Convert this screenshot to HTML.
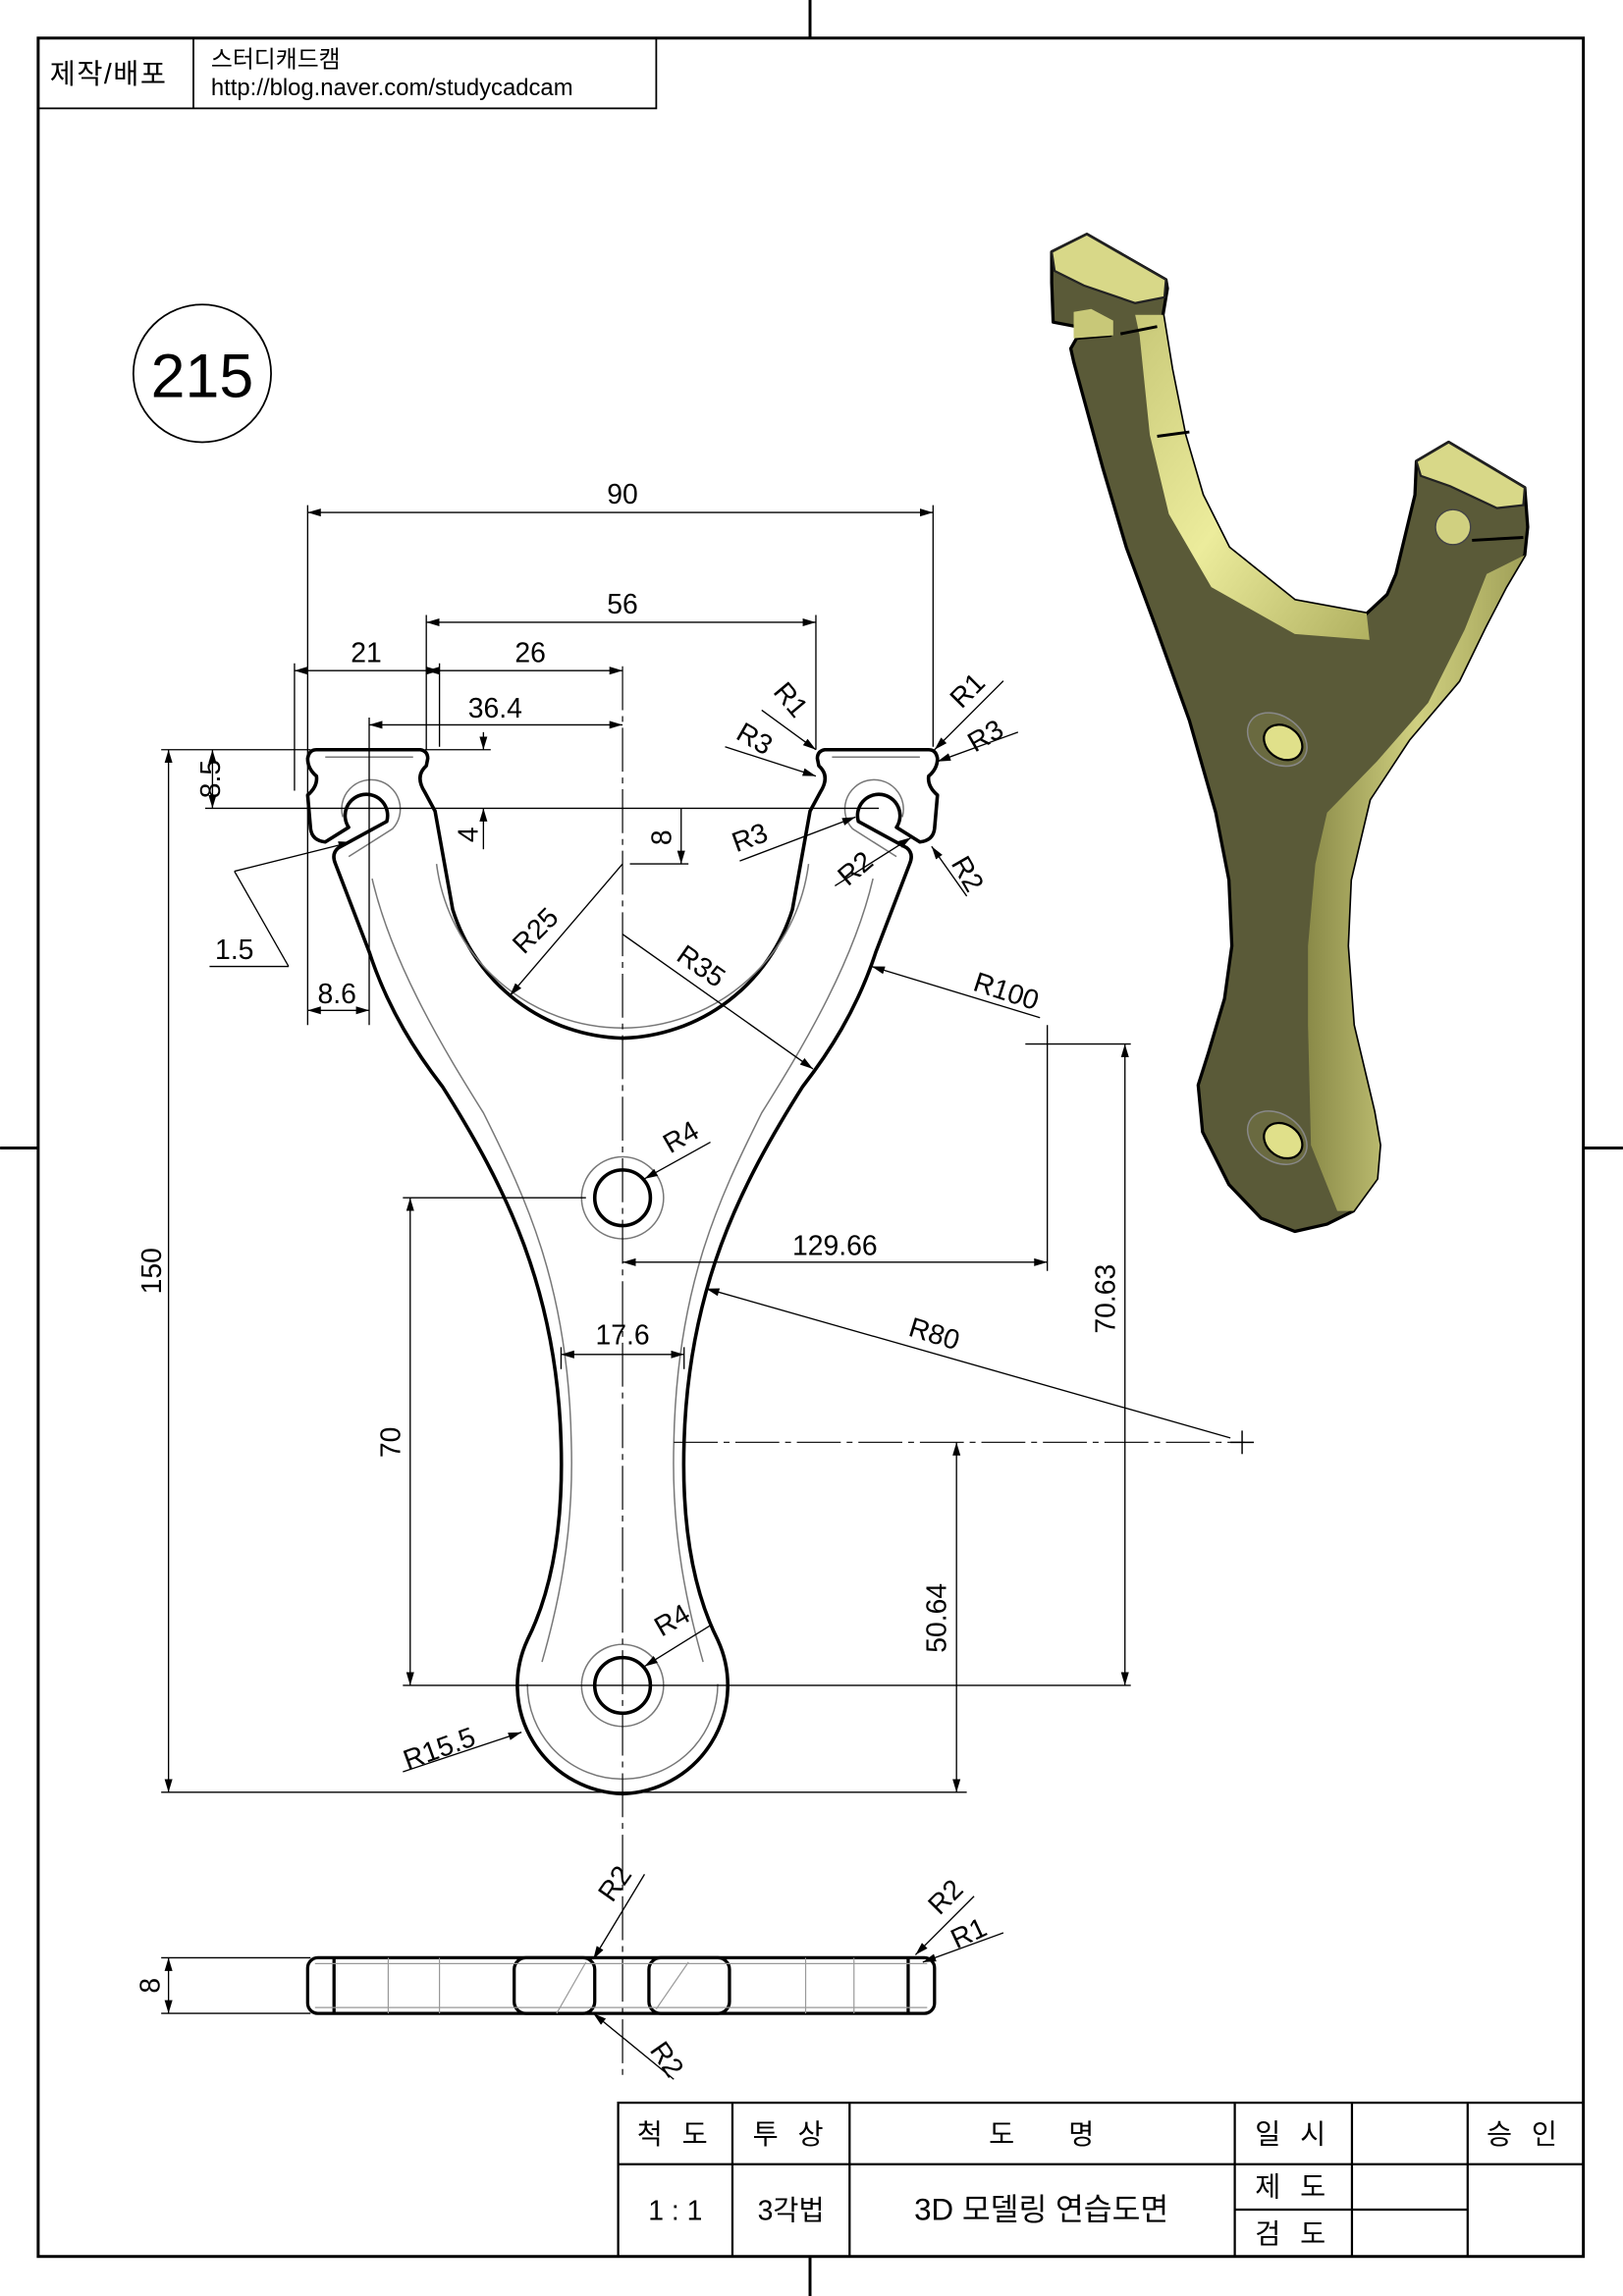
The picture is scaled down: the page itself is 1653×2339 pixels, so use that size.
<!DOCTYPE html>
<html><head><meta charset="utf-8"><style>
html,body{margin:0;padding:0;background:#fff}
svg{display:block}
text{font-family:"Liberation Sans","Noto Sans CJK KR",sans-serif;fill:#000}
</style></head><body>
<svg width="1653" height="2339" viewBox="0 0 1108 1568" xmlns="http://www.w3.org/2000/svg">
<defs>
<marker id="a" viewBox="0 0 10 10" refX="10" refY="5" markerWidth="9" markerHeight="9" orient="auto-start-reverse" markerUnits="userSpaceOnUse"><path d="M0,2 L10,5 L0,8 z" fill="#000"/></marker>
<linearGradient id="hb" x1="0" y1="0" x2="1" y2="1"><stop offset="0" stop-color="#c8c878"/><stop offset="0.5" stop-color="#ecec9c"/><stop offset="1" stop-color="#b0b060"/></linearGradient>
<linearGradient id="rb" x1="0" y1="0" x2="1" y2="0"><stop offset="0" stop-color="#8a8a48"/><stop offset="0.5" stop-color="#d0d080"/><stop offset="1" stop-color="#a0a058"/></linearGradient>
</defs>
<rect width="1108" height="1568" fill="#fff"/>
<!-- border -->
<rect x="26" y="26" width="1055" height="1515" fill="none" stroke="#000" stroke-width="2"/>
<g stroke="#000" stroke-width="2"><line x1="553" y1="0" x2="553" y2="26"/><line x1="553" y1="1541" x2="553" y2="1568"/><line x1="0" y1="784" x2="26" y2="784"/><line x1="1081" y1="784" x2="1108" y2="784"/></g>
<!-- header -->
<g stroke="#000" stroke-width="1.2" fill="none"><rect x="26" y="26" width="422" height="48"/><line x1="132" y1="26" x2="132" y2="74"/></g>
<text x="34" y="57" font-size="19" letter-spacing="1">제작/배포</text>
<text x="144" y="46" font-size="16">스터디캐드캠</text>
<text x="144" y="65" font-size="16">http://blog.naver.com/studycadcam</text>
<circle cx="138" cy="255" r="47" fill="none" stroke="#000" stroke-width="1.2"/>
<text x="138" y="271" font-size="42" text-anchor="middle">215</text>

<!-- 3D view -->
<path d="M718,193 L718,172 L742,160 L796,191 L797,197 L794,215 L800,252 L809,297 L821,338 L839,374 L884,410 L933,419 L947,406 L953,392 L966,338 L967,315 L989,302 L1041,333 L1043,360 L1041,379 L1028,401 L1014,428 L996,465 L962,505 L935,546 L922,601 L920,646 L924,700 L938,759 L942,782 L940,805 L924,827 L906,836 L884,841 L861,832 L839,809 L821,773 L818,741 L825,719 L836,682 L841,646 L839,601 L830,555 L812,492 L789,428 L769,374 L753,320 L733,247 L731,238 L735,231 L758,229 L740,224 L719,220 Z" fill="#5a5a38" stroke="#000" stroke-width="2.2" stroke-linejoin="round"/>
<path d="M794,215 L800,252 L809,297 L821,338 L839,374 L884,410 L933,419 L935,437 L884,433 L827,401 L798,351 L785,297 L778,229 L775,215 Z" fill="url(#hb)"/>
<path d="M1041,379 L1028,401 L1014,428 L996,465 L962,505 L935,546 L922,601 L920,646 L924,700 L938,759 L942,782 L940,805 L924,827 L913,827 L895,782 L893,700 L893,646 L898,590 L906,555 L940,520 L975,480 L1000,430 L1015,392 Z" fill="url(#rb)"/>
<path d="M718,172 L742,160 L796,191 L795,203 L775,207 L740,195 L720,185 Z" fill="#d8d888" stroke="#222" stroke-width="1.5"/>
<path d="M967,315 L989,302 L1041,333 L1040,345 L1022,347 L990,332 L970,325 Z" fill="#d8d888" stroke="#222" stroke-width="1.5"/>
<path d="M733,231 L760,229 L760,219 L745,211 L733,213 Z" fill="#c8c878"/>
<ellipse cx="992" cy="360" rx="12" ry="12" fill="#d0d080" stroke="#444" stroke-width="1"/>
<ellipse cx="872" cy="505" rx="22" ry="16" transform="rotate(35 872 505)" fill="#6a6a40" stroke="#888" stroke-width="1"/>
<ellipse cx="876" cy="507" rx="14" ry="11" transform="rotate(35 876 507)" fill="#e0e08a" stroke="#000" stroke-width="1.5"/>
<ellipse cx="872" cy="777" rx="22" ry="16" transform="rotate(35 872 777)" fill="#6a6a40" stroke="#888" stroke-width="1"/>
<ellipse cx="876" cy="779" rx="14" ry="11" transform="rotate(35 876 779)" fill="#e0e08a" stroke="#000" stroke-width="1.5"/>
<g stroke="#000" stroke-width="2"><line x1="765" y1="228" x2="790" y2="223"/><line x1="790" y1="298" x2="812" y2="295"/><line x1="1005" y1="369" x2="1040" y2="367"/></g>

<!-- front view outline: left half + mirror -->
<g id="lh" fill="none" stroke="#000" stroke-width="2.4" stroke-linejoin="round">
<path d="M425,1225 A74,74 0 0 1 360,1120 C374,1092 385,1050 383,985 C380,880 345,810 302,742 C285,720 265,690 252,650 L229,590 Q226,583 231,579 L264,561 A14.5,14.5 0 1 0 238,565 L222,575 Q213,574 212,566 L210,543 Q217,537 216,530 Q210,525 210,518 Q211,512 216,512 L287,512 Q292,513 292,518 L291,523 Q283,530 290,541 L297,554 L309,621 A125,125 0 0 0 425,709"/>
</g>
<use href="#lh" transform="translate(850,0) scale(-1,1)"/>
<g fill="none" stroke="#777" stroke-width="1">
<path d="M298,590 A128,128 0 0 0 552,590"/>
<path d="M596,600 C582,660 545,720 520,760 C490,820 462,880 460,985 C458,1050 470,1100 480,1135"/>
<path d="M254,600 C268,660 305,720 330,760 C360,820 388,880 390,985 C392,1050 380,1100 370,1135"/>
<path d="M360,1150 A65,65 0 0 0 490,1150"/>
<path d="M238,585 L268,566 A20,20 0 1 0 234,558"/>
<path d="M612,585 L582,566 A20,20 0 1 1 616,558"/>
<path d="M222,517 L282,517"/><path d="M568,517 L628,517"/>
<circle cx="425" cy="818" r="28"/><circle cx="425" cy="1151" r="28"/>
</g>
<g fill="none" stroke="#000" stroke-width="2.4">
<circle cx="425" cy="818" r="19"/><circle cx="425" cy="1151" r="19"/>
</g>
<!-- center lines -->
<g stroke="#000" stroke-width="0.8" stroke-dasharray="30,4,4,4" fill="none">
<line x1="425" y1="455" x2="425" y2="1420"/>
<line x1="460" y1="985" x2="850" y2="985"/>
</g>
<line x1="840" y1="985" x2="856" y2="985" stroke="#000"/><line x1="848" y1="977" x2="848" y2="993" stroke="#000"/>

<!-- dimension lines -->
<g stroke="#000" stroke-width="0.9" fill="none">
<line x1="210" y1="345" x2="210" y2="540"/><line x1="637" y1="345" x2="637" y2="510"/>
<line x1="291" y1="420" x2="291" y2="512"/><line x1="557" y1="420" x2="557" y2="512"/>
<line x1="201" y1="453" x2="201" y2="540"/><line x1="300" y1="453" x2="300" y2="510"/>
<line x1="252" y1="490" x2="252" y2="700"/><line x1="210" y1="540" x2="210" y2="700"/>
<line x1="110" y1="512" x2="212" y2="512"/><line x1="140" y1="552" x2="600" y2="552"/>
<line x1="290" y1="512" x2="335" y2="512"/>
<line x1="430" y1="590" x2="470" y2="590"/>
<line x1="110" y1="1224" x2="660" y2="1224"/>
<line x1="275" y1="818" x2="400" y2="818"/><line x1="275" y1="1151" x2="772" y2="1151"/>
<line x1="700" y1="713" x2="772" y2="713"/>
<line x1="715" y1="700" x2="715" y2="868"/>
<line x1="383" y1="920" x2="383" y2="935"/><line x1="467" y1="920" x2="467" y2="935"/>
<line x1="110" y1="1337" x2="212" y2="1337"/><line x1="110" y1="1375" x2="212" y2="1375"/>
</g>
<g stroke="#000" stroke-width="0.9" marker-start="url(#a)" marker-end="url(#a)">
<line x1="210" y1="350" x2="637" y2="350"/>
<line x1="291" y1="425" x2="557" y2="425"/>
<line x1="291" y1="458" x2="425" y2="458"/>
<line x1="201" y1="458" x2="300" y2="458"/>
<line x1="252" y1="495" x2="425" y2="495"/>
<line x1="145" y1="512" x2="145" y2="552"/>
<line x1="115" y1="512" x2="115" y2="1224"/>
<line x1="280" y1="818" x2="280" y2="1151"/>
<line x1="425" y1="862" x2="715" y2="862"/>
<line x1="768" y1="713" x2="768" y2="1151"/>
<line x1="653" y1="985" x2="653" y2="1224"/>
<line x1="383" y1="925" x2="467" y2="925"/>
<line x1="210" y1="690" x2="252" y2="690"/>
<line x1="115" y1="1337" x2="115" y2="1375"/>
</g>
<g stroke="#000" stroke-width="0.9" marker-end="url(#a)" fill="none">
<line x1="330" y1="580" x2="330" y2="552"/><line x1="330" y1="500" x2="330" y2="512"/>
<line x1="465" y1="552" x2="465" y2="590"/>
<line x1="425" y1="590" x2="348" y2="680"/>
<line x1="425" y1="638" x2="555" y2="730"/>
<line x1="710" y1="695" x2="595" y2="660"/>
<line x1="840" y1="982" x2="482" y2="880"/>
<line x1="485" y1="780" x2="440" y2="805"/>
<line x1="485" y1="1110" x2="440" y2="1138"/>
<line x1="275" y1="1210" x2="356" y2="1183"/>
<line x1="520" y1="485" x2="557" y2="512"/>
<line x1="495" y1="510" x2="557" y2="530"/>
<line x1="505" y1="588" x2="584" y2="558"/>
<line x1="685" y1="465" x2="638" y2="512"/>
<line x1="695" y1="500" x2="640" y2="520"/>
<line x1="570" y1="605" x2="622" y2="572"/>
<line x1="660" y1="612" x2="636" y2="578"/>
<line x1="160" y1="595" x2="240" y2="575"/>
<line x1="440" y1="1280" x2="405" y2="1338"/>
<line x1="665" y1="1295" x2="625" y2="1335"/>
<line x1="685" y1="1320" x2="630" y2="1340"/>
<line x1="460" y1="1420" x2="405" y2="1375"/>
</g>
<g stroke="#000" stroke-width="0.9"><line x1="143" y1="660" x2="197" y2="660"/><line x1="197" y1="660" x2="160" y2="595"/></g>

<!-- dimension text -->
<g font-size="19" text-anchor="middle">
<text x="425" y="344">90</text><text x="425" y="419">56</text>
<text x="362" y="452">26</text><text x="250" y="452">21</text>
<text x="338" y="490">36.4</text><text x="230" y="685">8.6</text>
<text x="160" y="655">1.5</text>
<text x="570" y="857">129.66</text><text x="425" y="918">17.6</text>
<text transform="translate(150,532) rotate(-90)">8.5</text>
<text transform="translate(326,570) rotate(-90)">4</text>
<text transform="translate(458,572) rotate(-90)">8</text>
<text transform="translate(110,868) rotate(-90)">150</text>
<text transform="translate(273,985) rotate(-90)">70</text>
<text transform="translate(761,887) rotate(-90)">70.63</text>
<text transform="translate(646,1105) rotate(-90)">50.64</text>
<text transform="translate(109,1356) rotate(-90)">8</text>
<text transform="translate(370,640) rotate(-45)">R25</text>
<text transform="translate(475,665) rotate(35)">R35</text>
<text transform="translate(685,683) rotate(18)">R100</text>
<text transform="translate(636,917) rotate(17)">R80</text>
<text transform="translate(468,782) rotate(-30)">R4</text>
<text transform="translate(462,1112) rotate(-30)">R4</text>
<text transform="translate(302,1200) rotate(-20)">R15.5</text>
<text transform="translate(535,482) rotate(50)">R1</text>
<text transform="translate(512,510) rotate(30)">R3</text>
<text transform="translate(514,578) rotate(-20)">R3</text>
<text transform="translate(588,598) rotate(-40)">R2</text>
<text transform="translate(665,476) rotate(-45)">R1</text>
<text transform="translate(676,508) rotate(-30)">R3</text>
<text transform="translate(655,600) rotate(60)">R2</text>
<text transform="translate(425,1290) rotate(-55)">R2</text>
<text transform="translate(650,1300) rotate(-45)">R2</text>
<text transform="translate(664,1326) rotate(-25)">R1</text>
<text transform="translate(450,1410) rotate(55)">R2</text>
</g>

<!-- side view -->
<g fill="none" stroke="#000" stroke-width="2.2">
<rect x="210" y="1337" width="428" height="38" rx="7"/>
<line x1="228" y1="1337" x2="228" y2="1375"/><line x1="620" y1="1337" x2="620" y2="1375"/>
<rect x="351" y="1337" width="55" height="38" rx="8"/><rect x="443" y="1337" width="55" height="38" rx="8"/>
</g>
<g stroke="#999" stroke-width="0.8">
<line x1="215" y1="1341" x2="633" y2="1341"/><line x1="215" y1="1371" x2="633" y2="1371"/>
<line x1="265" y1="1337" x2="265" y2="1375"/><line x1="300" y1="1337" x2="300" y2="1375"/>
<line x1="550" y1="1337" x2="550" y2="1375"/><line x1="583" y1="1337" x2="583" y2="1375"/>
<line x1="380" y1="1375" x2="400" y2="1340"/><line x1="448" y1="1372" x2="470" y2="1340"/>
</g>

<!-- title block -->
<g fill="none" stroke="#000" stroke-width="1.5">
<rect x="422" y="1436" width="659" height="105"/>
<line x1="422" y1="1478" x2="1081" y2="1478"/>
<line x1="500" y1="1436" x2="500" y2="1541"/><line x1="580" y1="1436" x2="580" y2="1541"/>
<line x1="843" y1="1436" x2="843" y2="1541"/><line x1="923" y1="1436" x2="923" y2="1541"/>
<line x1="1002" y1="1436" x2="1002" y2="1541"/>
<line x1="843" y1="1509" x2="1002" y2="1509"/>
</g>
<g font-size="19" text-anchor="middle">
<text x="461" y="1464" letter-spacing="4">척 도</text><text x="540" y="1464" letter-spacing="4">투 상</text>
<text x="711" y="1464">도 &#160; &#160; &#160; 명</text><text x="883" y="1464" letter-spacing="4">일 시</text>
<text x="1041" y="1464" letter-spacing="4">승 인</text>
<text x="461" y="1516">1 : 1</text><text x="540" y="1516">3각법</text>
<text x="711" y="1516" font-size="21">3D 모델링 연습도면</text>
<text x="883" y="1500" letter-spacing="4">제 도</text><text x="883" y="1532" letter-spacing="4">검 도</text>
</g>
</svg>
</body></html>
